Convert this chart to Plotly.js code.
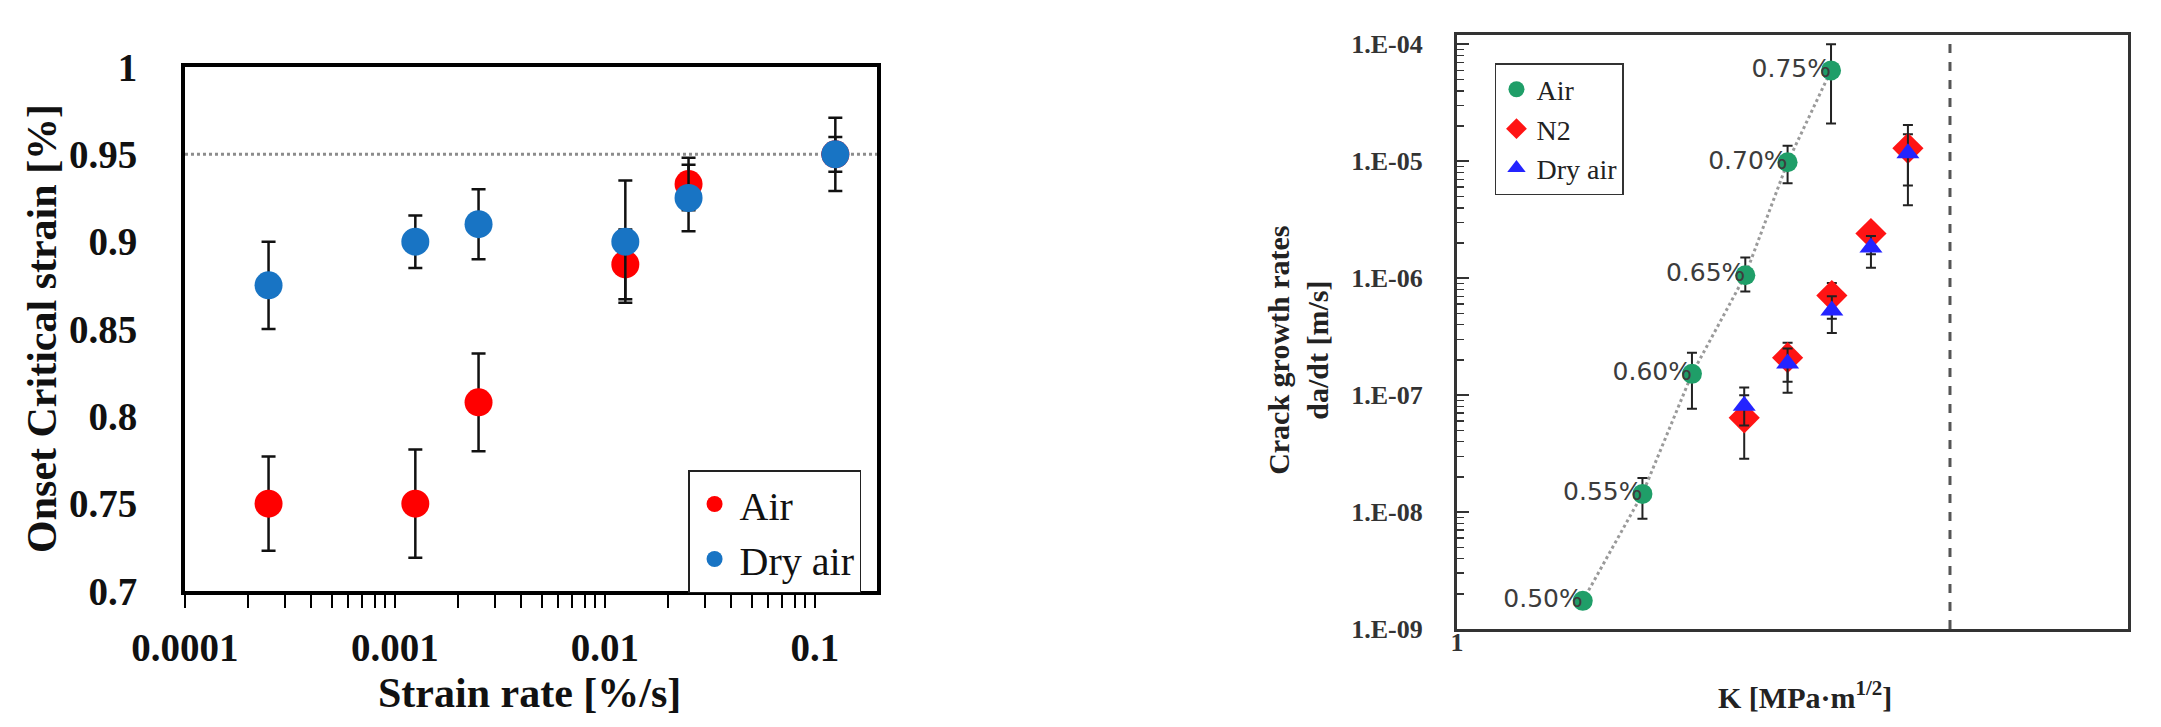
<!DOCTYPE html>
<html><head><meta charset="utf-8">
<script src="https://cdn.plot.ly/plotly-3.0.1.min.js"></script>
<style>html,body{margin:0;padding:0;background:#fff}#chart{width:2161px;height:727px}</style>
</head><body><div id="chart"></div>
<script>
// ---------- Left panel data ----------
const strainRates = [0.00025, 0.00125, 0.0025, 0.0125, 0.025, 0.125];
const airOnset = [0.75, 0.75, 0.808, 0.887, 0.933, 0.95];
const airOnsetErr = [0.027, 0.031, 0.028, 0.02, 0.015, 0.01];
const dryOnset = [0.875, 0.9, 0.91, 0.9, 0.925, 0.95];
const dryOnsetErr = [0.025, 0.015, 0.02, 0.035, 0.019, 0.021];
const referenceStrain = 0.95;
const leftXTickVals = [0.0001, 0.001, 0.01, 0.1];
const leftXTickText = ['0.0001', '0.001', '0.01', '0.1'];
const leftYTickVals = [0.7, 0.75, 0.8, 0.85, 0.9, 0.95, 1];
const leftYTickText = ['0.7', '0.75', '0.8', '0.85', '0.9', '0.95', '1'];

// ---------- Right panel data ----------
const strainLabels = ['0.50%', '0.55%', '0.60%', '0.65%', '0.70%', '0.75%'];
const kAir = [1.54, 1.89, 2.24, 2.69, 3.11, 3.61];
const rateAir = [1.74e-9, 1.43e-8, 1.52e-7, 1.06e-6, 9.8e-6, 5.98e-5];
const rateAirHigh = [1.74e-9, 1.96e-8, 2.3e-7, 1.5e-6, 1.36e-5, 1.0e-4];
const rateAirLow = [1.74e-9, 8.75e-9, 7.65e-8, 7.7e-7, 6.5e-6, 2.1e-5];
const kEnv = [2.68, 3.11, 3.62, 4.14, 4.70];
const rateN2 = [6.4e-8, 2.09e-7, 7.1e-7, 2.41e-6, 1.29e-5];
const rateN2High = [1.0e-7, 2.8e-7, 9.1e-7, 2.7e-6, 1.7e-5];
const rateN2Low = [2.86e-8, 1.3e-7, 4.5e-7, 1.6e-6, 6.2e-6];
const rateDry = [8.1e-8, 1.86e-7, 5.3e-7, 1.83e-6, 1.17e-5];
const rateDryHigh = [1.16e-7, 2.5e-7, 7.0e-7, 2.3e-6, 2.04e-5];
const rateDryLow = [5.5e-8, 1.05e-7, 3.4e-7, 1.23e-6, 4.2e-6];
const kLimit = 5.43;
const rightYTickVals = [1e-9, 1e-8, 1e-7, 1e-6, 1e-5, 1e-4];
const rightYTickText = ['1.E-09', '1.E-08', '1.E-07', '1.E-06', '1.E-05', '1.E-04'];
const rightXTickVals = [1];
const rightXTickText = ['1'];

// ---------- helpers ----------
function minorTicks(decades) {
  const out = [];
  decades.forEach(d => { for (let m = 2; m <= 9; m++) out.push(m * d); });
  return out;
}
const diff = (a, b) => a.map((v, i) => v - b[i]);

const serif = 'Liberation Serif, Times New Roman, serif';
const errLeft = (arr) => ({type: 'data', array: arr, visible: true, color: '#111', thickness: 2.5, width: 7});
const errRight = (hi, lo, v) => ({type: 'data', symmetric: false, array: diff(hi, v), arrayminus: diff(v, lo),
  visible: true, color: '#222', thickness: 2, width: 5});

const traces = [
  {x: strainRates, y: airOnset, name: 'Air', mode: 'markers', type: 'scatter', xaxis: 'x', yaxis: 'y',
   marker: {color: '#ff0000', size: 28}, error_y: errLeft(airOnsetErr), legend: 'legend'},
  {x: strainRates, y: dryOnset, name: 'Dry air', mode: 'markers', type: 'scatter', xaxis: 'x', yaxis: 'y',
   marker: {color: '#1874c4', size: 28}, error_y: errLeft(dryOnsetErr), legend: 'legend'},

  {x: kAir, y: rateAir, mode: 'lines', type: 'scatter', xaxis: 'x2', yaxis: 'y2', showlegend: false,
   line: {color: '#9a9a9a', width: 3, dash: 'dot'}, hoverinfo: 'skip'},
  {x: kAir, y: rateAir, name: 'Air', mode: 'markers', type: 'scatter', xaxis: 'x2', yaxis: 'y2',
   marker: {color: '#1f9e68', size: 20, symbol: 'circle'}, error_y: errRight(rateAirHigh, rateAirLow, rateAir), legend: 'legend2'},
  {x: kEnv, y: rateN2, name: 'N2', mode: 'markers', type: 'scatter', xaxis: 'x2', yaxis: 'y2',
   marker: {color: '#ff1414', size: 24, symbol: 'diamond'}, error_y: errRight(rateN2High, rateN2Low, rateN2), legend: 'legend2'},
  {x: kEnv, y: rateDry, name: 'Dry air', mode: 'markers', type: 'scatter', xaxis: 'x2', yaxis: 'y2',
   marker: {color: '#2424ff', size: 20, symbol: 'triangle-up'}, error_y: errRight(rateDryHigh, rateDryLow, rateDry), legend: 'legend2'},
  {x: kAir, y: rateAir, text: strainLabels, mode: 'text', type: 'scatter', xaxis: 'x2', yaxis: 'y2', showlegend: false,
   textposition: 'middle left', textfont: {family: 'DejaVu Sans, Verdana, sans-serif', size: 25, color: '#3c3c3c'}, hoverinfo: 'skip'}
];

const tickFontL = {family: serif, size: 39, color: '#111', weight: 'bold'};
const tickFontR = {family: serif, size: 26, color: '#333', weight: 'bold'};

const layout = {
  width: 2161, height: 727,
  margin: {l: 0, r: 0, t: 0, b: 0},
  paper_bgcolor: '#ffffff', plot_bgcolor: '#ffffff',
  showlegend: true,
  xaxis: {domain: [0.0856, 0.4058], anchor: 'y', type: 'log', range: [-4, -0.705],
    showgrid: false, zeroline: false, showline: true, mirror: true, linecolor: '#000', linewidth: 4,
    tickmode: 'array', tickvals: leftXTickVals, ticktext: leftXTickText,
    ticks: 'outside', ticklen: 13, tickwidth: 2, tickcolor: '#000',
    minor: {tickmode: 'array', tickvals: minorTicks([1e-4, 1e-3, 1e-2, 1e-1]), ticks: 'outside', ticklen: 13, tickwidth: 2, tickcolor: '#000', showgrid: false},
    tickfont: tickFontL, ticklabelstandoff: 6, automargin: false},
  yaxis: {domain: [0.1871, 0.9078], anchor: 'x', range: [0.7, 1],
    showgrid: false, zeroline: false, showline: true, mirror: true, linecolor: '#000', linewidth: 4,
    tickmode: 'array', tickvals: leftYTickVals, ticktext: leftYTickText, ticks: '',
    tickfont: tickFontL, ticklabelstandoff: 36, automargin: false},
  xaxis2: {domain: [0.6742, 0.9847], anchor: 'y2', type: 'log', range: [0, 1],
    showgrid: false, zeroline: false, showline: true, mirror: true, linecolor: '#333', linewidth: 3,
    tickmode: 'array', tickvals: rightXTickVals, ticktext: rightXTickText, ticks: '',
    tickfont: tickFontR, ticklabelstandoff: -12, automargin: false},
  yaxis2: {domain: [0.1348, 0.9519], anchor: 'x2', type: 'log', range: [-9, -3.92],
    showgrid: false, zeroline: false, showline: true, mirror: true, linecolor: '#333', linewidth: 3,
    tickmode: 'array', tickvals: rightYTickVals, ticktext: rightYTickText,
    ticks: 'inside', ticklen: 12, tickwidth: 2, tickcolor: '#333',
    minor: {tickmode: 'array', tickvals: minorTicks([1e-9, 1e-8, 1e-7, 1e-6, 1e-5, 1e-4]), ticks: 'inside', ticklen: 7, tickwidth: 1.5, tickcolor: '#333', showgrid: false},
    tickfont: tickFontR, ticklabelstandoff: 26, automargin: false},
  legend: {x: 0.3184, xanchor: 'left', y: 0.3535, yanchor: 'top', bgcolor: '#fff', bordercolor: '#222', borderwidth: 1.5,
    font: {family: serif, size: 40, color: '#111'}, itemsizing: 'trace', itemwidth: 40, tracegroupgap: 0},
  legend2: {x: 0.6918, xanchor: 'left', y: 0.9133, yanchor: 'top', bgcolor: '#fff', bordercolor: '#333', borderwidth: 1.5,
    font: {family: serif, size: 28, color: '#222'}, itemsizing: 'trace', tracegroupgap: 0},
  shapes: [
    {type: 'line', xref: 'x domain', x0: 0, x1: 1, yref: 'y', y0: referenceStrain, y1: referenceStrain,
     line: {color: '#8c8c8c', width: 3, dash: 'dot'}, layer: 'below'},
    {type: 'line', xref: 'x2', x0: kLimit, x1: kLimit, yref: 'y2 domain', y0: 0, y1: 1,
     line: {color: '#555', width: 3, dash: 'dash'}, layer: 'below'}
  ],
  annotations: [
    {text: 'Onset Critical strain [%]', xref: 'paper', yref: 'paper', x: 0.01944, y: 0.5475, textangle: -90,
     showarrow: false, xanchor: 'center', yanchor: 'middle', font: {family: serif, size: 42, color: '#111', weight: 'bold'}},
    {text: 'Strain rate [%/s]', xref: 'paper', yref: 'paper', x: 0.2448, y: 0.0468,
     showarrow: false, xanchor: 'center', yanchor: 'middle', font: {family: serif, size: 42, color: '#111', weight: 'bold'}},
    {text: 'Crack growth rates<br>da/dt [m/s]', xref: 'paper', yref: 'paper', x: 0.6006, y: 0.5186, textangle: -90,
     showarrow: false, xanchor: 'center', yanchor: 'middle', font: {family: serif, size: 30, color: '#222', weight: 'bold'}},
    {text: 'K [MPa·m<sup>1/2</sup>]', xref: 'paper', yref: 'paper', x: 0.8353, y: 0.044,
     showarrow: false, xanchor: 'center', yanchor: 'middle', font: {family: serif, size: 30, color: '#222', weight: 'bold'}}
  ]
};

Plotly.newPlot('chart', traces, layout, {displayModeBar: false, staticPlot: true});
</script>
</body></html>
